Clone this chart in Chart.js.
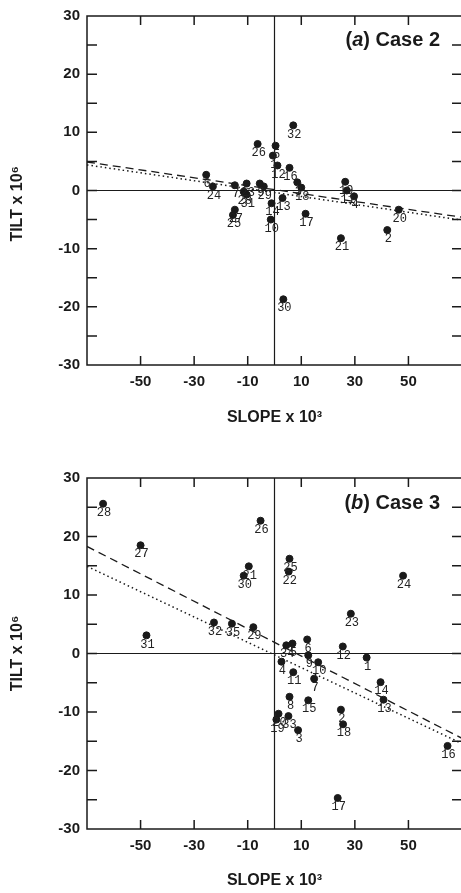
<!DOCTYPE html>
<html>
<head>
<title>Tilt vs slope</title>
<style>
    body { margin: 0; overflow: hidden; background: #fff; }
    canvas { display: block; }
</style>
<script src="https://cdn.jsdelivr.net/npm/chart.js"></script>
</head>
<body>
<canvas id="chartA" width="470" height="446"></canvas>
<canvas id="chartB" width="470" height="447"></canvas>
<script>
// axis ticks
const xTicks = [-50, -30, -10, 10, 30, 50];
const yTicks = [-30, -25, -20, -15, -10, -5, 0, 5, 10, 15, 20, 25, 30];
const lineX = [-70, 70];

// (a) Case 2
const caseALabels = ['32', '26', '5', '1', '12', '16', '3', '18', '19', '11', '4', '6', '24', '7', '23', '28', '31', '27', '25', '29', '9', '13', '14', '10', '17', '20', '21', '2', '30'];
const caseAX = [7, -6.3, 0.4, -0.6, 1.1, 5.6, 8.5, 10, 26.4, 27, 29.7, -25.5, -23, -14.8, -10.4, -11.5, -10.4, -14.8, -15.5, -4, -5.5, 3, -1.1, -1.4, 11.6, 46.4, 24.8, 42.1, 3.3];
const caseAY = [11.2, 8.0, 7.7, 6.0, 4.3, 3.9, 1.4, 0.5, 1.5, 0, -1.0, 2.7, 0.7, 0.9, 1.2, -0.2, -0.7, -3.3, -4.2, 0.7, 1.2, -1.3, -2.2, -5, -4, -3.3, -8.2, -6.8, -18.7];
const caseADashY = [4.9, -4.6];
const caseADotY = [4.4, -5.1];

// (b) Case 3
const caseBLabels = ['28', '27', '26', '21', '30', '25', '22', '24', '23', '31', '32', '35', '29', '34', '5', '6', '9', '4', '10', '11', '7', '12', '1', '14', '13', '8', '15', '2', '18', '20', '33', '19', '3', '16', '17'];
const caseBX = [-64, -50, -5.2, -9.6, -11.5, 5.6, 5.3, 48, 28.5, -47.8, -22.6, -15.9, -7.9, 4.4, 6.7, 12.2, 12.6, 2.6, 16.3, 7, 14.8, 25.5, 34.4, 39.6, 40.7, 5.6, 12.6, 24.8, 25.6, 1.5, 5.2, 0.7, 8.8, 64.6, 23.6];
const caseBY = [25.6, 18.5, 22.7, 14.9, 13.3, 16.2, 14.0, 13.3, 6.8, 3.1, 5.3, 5.1, 4.5, 1.4, 1.7, 2.4, -0.3, -1.4, -1.5, -3.2, -4.3, 1.2, -0.7, -4.9, -7.9, -7.4, -8.0, -9.6, -12.1, -10.3, -10.7, -11.3, -13.1, -15.8, -24.7];
const caseBDashY = [18.3, -14.5];
const caseBDotY = [14.9, -15.4];

const ink = '#1a1a1a';
const fontFamily = '"Liberation Sans", Arial, sans-serif';

const framePlugin = {
    id: 'frame',
    afterDatasetsDraw(chart, args, opts) {
        const ctx = chart.ctx;
        const a = chart.chartArea;
        const xs = chart.scales.x, ys = chart.scales.y;
        ctx.save();
        ctx.strokeStyle = ink;
        ctx.lineWidth = 1.5;
        ctx.strokeRect(a.left, a.top, a.right - a.left, a.bottom - a.top);

        // zero lines
        ctx.lineWidth = 1.2;
        ctx.beginPath();
        const x0 = xs.getPixelForValue(0), y0 = ys.getPixelForValue(0);
        ctx.moveTo(x0, a.top); ctx.lineTo(x0, a.bottom);
        ctx.moveTo(a.left, y0); ctx.lineTo(a.right, y0);
        ctx.stroke();

        // inward ticks
        ctx.lineWidth = 1.5;
        ctx.beginPath();
        xTicks.forEach(v => {
            const px = xs.getPixelForValue(v);
            ctx.moveTo(px, a.bottom); ctx.lineTo(px, a.bottom - 9);
            ctx.moveTo(px, a.top); ctx.lineTo(px, a.top + 9);
        });
        yTicks.forEach(v => {
            if (v === 30 || v === -30) return;
            const py = ys.getPixelForValue(v);
            ctx.moveTo(a.left, py); ctx.lineTo(a.left + 10, py);
            ctx.moveTo(a.right, py); ctx.lineTo(a.right - 10, py);
        });
        ctx.stroke();

        // point labels
        const meta = chart.getDatasetMeta(0);
        const labels = chart.data.datasets[0].pointLabels;
        ctx.fillStyle = '#222';
        ctx.font = '12px "Liberation Mono", monospace';
        ctx.textAlign = 'center';
        ctx.textBaseline = 'middle';
        meta.data.forEach((el, i) => {
            ctx.fillText(labels[i], el.x + 1, el.y + 9);
        });

        // panel title
        const parts = opts.parts;
        ctx.textBaseline = 'middle';
        ctx.textAlign = 'left';
        let w = 0;
        parts.forEach(p => { ctx.font = p[1] + ' 20px ' + fontFamily; w += ctx.measureText(p[0]).width; });
        let x = opts.right - w;
        parts.forEach(p => {
            ctx.font = p[1] + ' 20px ' + fontFamily;
            ctx.fillStyle = ink;
            ctx.fillText(p[0], x, opts.y);
            x += ctx.measureText(p[0]).width;
        });
        ctx.restore();
    }
};

function toPoints(xs, ys) {
    return xs.map((x, i) => ({ x: x, y: ys[i] }));
}

function makeChart(id, xs, ys, labels, dashY, dotY, titleParts, titleY, cfg) {
    return new Chart(document.getElementById(id), {
        type: 'scatter',
        data: {
            datasets: [{
                data: toPoints(xs, ys),
                pointLabels: labels,
                backgroundColor: ink,
                borderColor: ink,
                pointRadius: 3.5,
                pointHoverRadius: 3.5
            }, {
                type: 'line',
                data: toPoints(lineX, dashY),
                borderColor: ink,
                borderWidth: 1.3,
                borderDash: [8, 5],
                pointRadius: 0,
                fill: false
            }, {
                type: 'line',
                data: toPoints(lineX, dotY),
                borderColor: ink,
                borderWidth: 1.5,
                borderDash: [1.5, 3],
                pointRadius: 0,
                fill: false
            }]
        },
        options: {
            responsive: false,
            animation: false,
            events: [],
            layout: { padding: { top: cfg.top, right: 8, left: 0, bottom: 0 } },
            plugins: {
                legend: { display: false },
                tooltip: { enabled: false },
                frame: { parts: titleParts, right: 440, y: titleY }
            },
            scales: {
                x: {
                    type: 'linear',
                    min: -70,
                    max: 70,
                    afterBuildTicks: s => { s.ticks = xTicks.map(v => ({ value: v })); },
                    afterFit: s => { s.height = cfg.xHeight; },
                    grid: { display: false, drawTicks: false },
                    border: { display: false },
                    ticks: {
                        padding: 8,
                        color: ink,
                        font: { family: fontFamily, size: 15, weight: 'bold' }
                    },
                    title: {
                        display: true,
                        text: 'SLOPE x 10³',
                        color: ink,
                        font: { family: fontFamily, size: 16, weight: 'bold' },
                        padding: { top: 0, bottom: cfg.xTitlePad }
                    }
                },
                y: {
                    type: 'linear',
                    min: -30,
                    max: 30,
                    afterBuildTicks: s => { s.ticks = yTicks.map(v => ({ value: v })); },
                    afterFit: s => { s.width = 87; },
                    grid: { display: false, drawTicks: false },
                    border: { display: false },
                    ticks: {
                        padding: 7,
                        color: ink,
                        font: { family: fontFamily, size: 15, weight: 'bold' },
                        callback: v => (v % 10 === 0 ? String(v) : '')
                    },
                    title: {
                        display: true,
                        text: cfg.yTitle,
                        color: ink,
                        font: { family: fontFamily, size: 16, weight: 'bold' },
                        padding: { top: 8, bottom: 0 }
                    }
                }
            }
        },
        plugins: [framePlugin]
    });
}

makeChart('chartA', caseAX, caseAY, caseALabels, caseADashY, caseADotY,
    [['(', 'bold'], ['a', 'italic bold'], [') Case 2', 'bold']], 40,
    { top: 13, xHeight: 81, xTitlePad: 19, yTitle: 'TILT x 10⁶      ' });

makeChart('chartB', caseBX, caseBY, caseBLabels, caseBDashY, caseBDotY,
    [['(', 'bold'], ['b', 'italic bold'], [') Case 3', 'bold']], 57,
    { top: 32, xHeight: 64, xTitlePad: 3, yTitle: 'TILT x 10⁶' });
</script>
</body>
</html>
